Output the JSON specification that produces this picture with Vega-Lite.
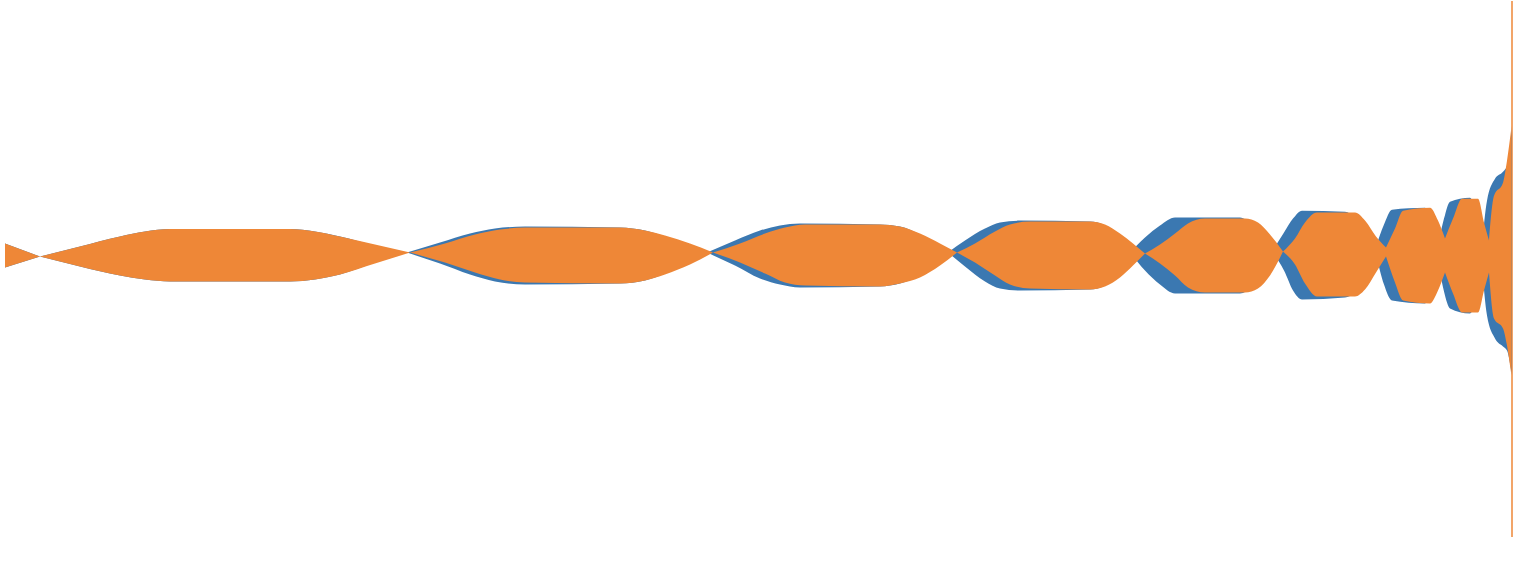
{
  "$schema": "https://vega.github.io/schema/vega-lite/v6.json",
  "width": 1520,
  "height": 562,
  "padding": 0,
  "autosize": {"type": "fit", "contains": "padding"},
  "background": "white",
  "config": {"view": {"stroke": null}},
  "datasets": {
    "env": [
      {"s": "blue", "b": 0, "x": 5, "top": 243, "bot": 267},
      {"s": "blue", "b": 0, "x": 40, "top": 256, "bot": 256},
      {"s": "blue", "b": 1, "x": 40, "top": 256, "bot": 256},
      {"s": "blue", "b": 1, "x": 80, "top": 246, "bot": 266},
      {"s": "blue", "b": 1, "x": 120, "top": 236, "bot": 275},
      {"s": "blue", "b": 1, "x": 145, "top": 231, "bot": 279},
      {"s": "blue", "b": 1, "x": 170, "top": 228.5, "bot": 281},
      {"s": "blue", "b": 1, "x": 290, "top": 228.5, "bot": 281},
      {"s": "blue", "b": 1, "x": 315, "top": 231, "bot": 279},
      {"s": "blue", "b": 1, "x": 340, "top": 236, "bot": 274},
      {"s": "blue", "b": 1, "x": 375, "top": 245, "bot": 262},
      {"s": "blue", "b": 1, "x": 407, "top": 252, "bot": 252},
      {"s": "blue", "b": 2, "x": 407, "top": 252, "bot": 252},
      {"s": "blue", "b": 2, "x": 440, "top": 242, "bot": 263},
      {"s": "blue", "b": 2, "x": 470, "top": 233, "bot": 274},
      {"s": "blue", "b": 2, "x": 495, "top": 228, "bot": 281},
      {"s": "blue", "b": 2, "x": 525, "top": 226, "bot": 284},
      {"s": "blue", "b": 2, "x": 620, "top": 227, "bot": 283},
      {"s": "blue", "b": 2, "x": 645, "top": 230, "bot": 280},
      {"s": "blue", "b": 2, "x": 665, "top": 236, "bot": 273},
      {"s": "blue", "b": 2, "x": 690, "top": 245, "bot": 261},
      {"s": "blue", "b": 2, "x": 707, "top": 252, "bot": 252},
      {"s": "blue", "b": 3, "x": 707, "top": 252, "bot": 252},
      {"s": "blue", "b": 3, "x": 735, "top": 240, "bot": 265},
      {"s": "blue", "b": 3, "x": 760, "top": 230, "bot": 278},
      {"s": "blue", "b": 3, "x": 780, "top": 225, "bot": 284},
      {"s": "blue", "b": 3, "x": 800, "top": 223, "bot": 287},
      {"s": "blue", "b": 3, "x": 880, "top": 224, "bot": 286},
      {"s": "blue", "b": 3, "x": 900, "top": 226, "bot": 283},
      {"s": "blue", "b": 3, "x": 920, "top": 234, "bot": 275},
      {"s": "blue", "b": 3, "x": 938, "top": 246, "bot": 260},
      {"s": "blue", "b": 3, "x": 948, "top": 252, "bot": 252},
      {"s": "blue", "b": 4, "x": 948, "top": 252, "bot": 252},
      {"s": "blue", "b": 4, "x": 965, "top": 240, "bot": 266},
      {"s": "blue", "b": 4, "x": 985, "top": 228, "bot": 281},
      {"s": "blue", "b": 4, "x": 1000, "top": 222, "bot": 288},
      {"s": "blue", "b": 4, "x": 1020, "top": 220, "bot": 290},
      {"s": "blue", "b": 4, "x": 1090, "top": 221, "bot": 289},
      {"s": "blue", "b": 4, "x": 1105, "top": 225, "bot": 285},
      {"s": "blue", "b": 4, "x": 1118, "top": 238, "bot": 270},
      {"s": "blue", "b": 4, "x": 1130, "top": 252, "bot": 252},
      {"s": "blue", "b": 5, "x": 1130, "top": 252, "bot": 252},
      {"s": "blue", "b": 5, "x": 1145, "top": 237, "bot": 270},
      {"s": "blue", "b": 5, "x": 1160, "top": 225, "bot": 284},
      {"s": "blue", "b": 5, "x": 1175, "top": 217, "bot": 293},
      {"s": "blue", "b": 5, "x": 1240, "top": 217, "bot": 293},
      {"s": "blue", "b": 5, "x": 1252, "top": 225, "bot": 285},
      {"s": "blue", "b": 5, "x": 1262, "top": 238, "bot": 268},
      {"s": "blue", "b": 5, "x": 1272, "top": 251, "bot": 251},
      {"s": "blue", "b": 6, "x": 1272, "top": 251, "bot": 251},
      {"s": "blue", "b": 6, "x": 1284, "top": 232, "bot": 270},
      {"s": "blue", "b": 6, "x": 1293, "top": 218, "bot": 290},
      {"s": "blue", "b": 6, "x": 1302, "top": 210, "bot": 299},
      {"s": "blue", "b": 6, "x": 1345, "top": 211, "bot": 297},
      {"s": "blue", "b": 6, "x": 1355, "top": 218, "bot": 291},
      {"s": "blue", "b": 6, "x": 1366, "top": 236, "bot": 270},
      {"s": "blue", "b": 6, "x": 1375, "top": 249, "bot": 249},
      {"s": "blue", "b": 7, "x": 1375, "top": 249, "bot": 249},
      {"s": "blue", "b": 7, "x": 1384, "top": 224, "bot": 284},
      {"s": "blue", "b": 7, "x": 1392, "top": 209, "bot": 300},
      {"s": "blue", "b": 7, "x": 1425, "top": 207, "bot": 303},
      {"s": "blue", "b": 7, "x": 1432, "top": 222, "bot": 288},
      {"s": "blue", "b": 7, "x": 1439, "top": 240, "bot": 266},
      {"s": "blue", "b": 8, "x": 1439, "top": 240, "bot": 266},
      {"s": "blue", "b": 8, "x": 1444, "top": 218, "bot": 291},
      {"s": "blue", "b": 8, "x": 1450, "top": 201, "bot": 308},
      {"s": "blue", "b": 8, "x": 1470, "top": 197, "bot": 313},
      {"s": "blue", "b": 8, "x": 1477, "top": 218, "bot": 294},
      {"s": "blue", "b": 8, "x": 1482, "top": 245, "bot": 265},
      {"s": "blue", "b": 9, "x": 1482, "top": 245, "bot": 265},
      {"s": "blue", "b": 9, "x": 1487, "top": 200, "bot": 315},
      {"s": "blue", "b": 9, "x": 1495, "top": 178, "bot": 338},
      {"s": "blue", "b": 9, "x": 1503, "top": 171, "bot": 346},
      {"s": "blue", "b": 9, "x": 1507, "top": 165, "bot": 350},
      {"s": "blue", "b": 9, "x": 1512, "top": 125, "bot": 375},
      {"s": "orange", "b": 0, "x": 5, "top": 243, "bot": 267},
      {"s": "orange", "b": 0, "x": 40, "top": 256, "bot": 256},
      {"s": "orange", "b": 1, "x": 40, "top": 256, "bot": 256},
      {"s": "orange", "b": 1, "x": 80, "top": 246, "bot": 266},
      {"s": "orange", "b": 1, "x": 120, "top": 236, "bot": 275},
      {"s": "orange", "b": 1, "x": 145, "top": 231, "bot": 279},
      {"s": "orange", "b": 1, "x": 170, "top": 228.5, "bot": 281},
      {"s": "orange", "b": 1, "x": 290, "top": 228.5, "bot": 281},
      {"s": "orange", "b": 1, "x": 315, "top": 231, "bot": 279},
      {"s": "orange", "b": 1, "x": 340, "top": 236, "bot": 274},
      {"s": "orange", "b": 1, "x": 375, "top": 244, "bot": 263},
      {"s": "orange", "b": 1, "x": 410, "top": 252, "bot": 252},
      {"s": "orange", "b": 2, "x": 410, "top": 252, "bot": 252},
      {"s": "orange", "b": 2, "x": 445, "top": 243, "bot": 262},
      {"s": "orange", "b": 2, "x": 475, "top": 234, "bot": 272},
      {"s": "orange", "b": 2, "x": 500, "top": 229, "bot": 279},
      {"s": "orange", "b": 2, "x": 525, "top": 227, "bot": 282},
      {"s": "orange", "b": 2, "x": 620, "top": 227, "bot": 283},
      {"s": "orange", "b": 2, "x": 645, "top": 230, "bot": 280},
      {"s": "orange", "b": 2, "x": 665, "top": 235, "bot": 274},
      {"s": "orange", "b": 2, "x": 690, "top": 243, "bot": 264},
      {"s": "orange", "b": 2, "x": 713, "top": 252, "bot": 252},
      {"s": "orange", "b": 3, "x": 713, "top": 252, "bot": 252},
      {"s": "orange", "b": 3, "x": 740, "top": 243, "bot": 262},
      {"s": "orange", "b": 3, "x": 765, "top": 233, "bot": 273},
      {"s": "orange", "b": 3, "x": 785, "top": 227, "bot": 282},
      {"s": "orange", "b": 3, "x": 805, "top": 224, "bot": 285},
      {"s": "orange", "b": 3, "x": 880, "top": 224, "bot": 286},
      {"s": "orange", "b": 3, "x": 900, "top": 226, "bot": 283},
      {"s": "orange", "b": 3, "x": 920, "top": 233, "bot": 277},
      {"s": "orange", "b": 3, "x": 940, "top": 243, "bot": 265},
      {"s": "orange", "b": 3, "x": 957, "top": 252, "bot": 252},
      {"s": "orange", "b": 4, "x": 957, "top": 252, "bot": 252},
      {"s": "orange", "b": 4, "x": 975, "top": 243, "bot": 262},
      {"s": "orange", "b": 4, "x": 995, "top": 231, "bot": 275},
      {"s": "orange", "b": 4, "x": 1010, "top": 224, "bot": 284},
      {"s": "orange", "b": 4, "x": 1030, "top": 221, "bot": 288},
      {"s": "orange", "b": 4, "x": 1090, "top": 221, "bot": 289},
      {"s": "orange", "b": 4, "x": 1105, "top": 224, "bot": 286},
      {"s": "orange", "b": 4, "x": 1120, "top": 233, "bot": 277},
      {"s": "orange", "b": 4, "x": 1133, "top": 243, "bot": 265},
      {"s": "orange", "b": 4, "x": 1145, "top": 253, "bot": 253},
      {"s": "orange", "b": 5, "x": 1145, "top": 253, "bot": 253},
      {"s": "orange", "b": 5, "x": 1160, "top": 244, "bot": 263},
      {"s": "orange", "b": 5, "x": 1175, "top": 233, "bot": 275},
      {"s": "orange", "b": 5, "x": 1188, "top": 223, "bot": 287},
      {"s": "orange", "b": 5, "x": 1205, "top": 218, "bot": 292},
      {"s": "orange", "b": 5, "x": 1245, "top": 218, "bot": 292},
      {"s": "orange", "b": 5, "x": 1258, "top": 222, "bot": 288},
      {"s": "orange", "b": 5, "x": 1270, "top": 234, "bot": 275},
      {"s": "orange", "b": 5, "x": 1283, "top": 251, "bot": 251},
      {"s": "orange", "b": 6, "x": 1283, "top": 251, "bot": 251},
      {"s": "orange", "b": 6, "x": 1295, "top": 238, "bot": 264},
      {"s": "orange", "b": 6, "x": 1305, "top": 222, "bot": 283},
      {"s": "orange", "b": 6, "x": 1317, "top": 212, "bot": 296},
      {"s": "orange", "b": 6, "x": 1355, "top": 212, "bot": 296},
      {"s": "orange", "b": 6, "x": 1365, "top": 220, "bot": 289},
      {"s": "orange", "b": 6, "x": 1376, "top": 236, "bot": 272},
      {"s": "orange", "b": 6, "x": 1386, "top": 247, "bot": 256},
      {"s": "orange", "b": 7, "x": 1386, "top": 247, "bot": 256},
      {"s": "orange", "b": 7, "x": 1395, "top": 228, "bot": 282},
      {"s": "orange", "b": 7, "x": 1403, "top": 210, "bot": 300},
      {"s": "orange", "b": 7, "x": 1430, "top": 207, "bot": 303},
      {"s": "orange", "b": 7, "x": 1438, "top": 220, "bot": 290},
      {"s": "orange", "b": 7, "x": 1445, "top": 238, "bot": 272},
      {"s": "orange", "b": 8, "x": 1445, "top": 238, "bot": 272},
      {"s": "orange", "b": 8, "x": 1453, "top": 218, "bot": 293},
      {"s": "orange", "b": 8, "x": 1462, "top": 198, "bot": 312},
      {"s": "orange", "b": 8, "x": 1478, "top": 198, "bot": 312},
      {"s": "orange", "b": 8, "x": 1484, "top": 222, "bot": 290},
      {"s": "orange", "b": 8, "x": 1489, "top": 240, "bot": 272},
      {"s": "orange", "b": 9, "x": 1489, "top": 240, "bot": 272},
      {"s": "orange", "b": 9, "x": 1494, "top": 195, "bot": 318},
      {"s": "orange", "b": 9, "x": 1503, "top": 182, "bot": 328},
      {"s": "orange", "b": 9, "x": 1507, "top": 160, "bot": 345},
      {"s": "orange", "b": 9, "x": 1511, "top": 130, "bot": 372}
    ],
    "spike": [
      {"s": "orange", "x": 1512, "top": 0, "bot": 537}
    ]
  },
  "layer": [
    {
      "data": {"name": "env"},
      "transform": [{"filter": "datum.s === 'blue'"}],
      "mark": {"type": "area", "interpolate": "monotone", "color": "#3b78b1"},
      "encoding": {
        "x": {"field": "x", "type": "quantitative", "scale": {"domain": [0, 1520], "nice": false, "zero": false}, "axis": null},
        "y": {"field": "top", "type": "quantitative", "scale": {"domain": [0, 562], "nice": false, "zero": false, "reverse": true}, "axis": null},
        "y2": {"field": "bot"},
        "detail": {"field": "b", "type": "nominal"}
      }
    },
    {
      "data": {"name": "env"},
      "transform": [{"filter": "datum.s === 'orange'"}],
      "mark": {"type": "area", "interpolate": "monotone", "color": "#ee8737"},
      "encoding": {
        "x": {"field": "x", "type": "quantitative"},
        "y": {"field": "top", "type": "quantitative"},
        "y2": {"field": "bot"},
        "detail": {"field": "b", "type": "nominal"}
      }
    },
    {
      "data": {"name": "spike"},
      "mark": {"type": "rule", "color": "#ee8737", "strokeWidth": 1.5},
      "encoding": {
        "x": {"field": "x", "type": "quantitative"},
        "y": {"field": "top", "type": "quantitative"},
        "y2": {"field": "bot"}
      }
    }
  ]
}
